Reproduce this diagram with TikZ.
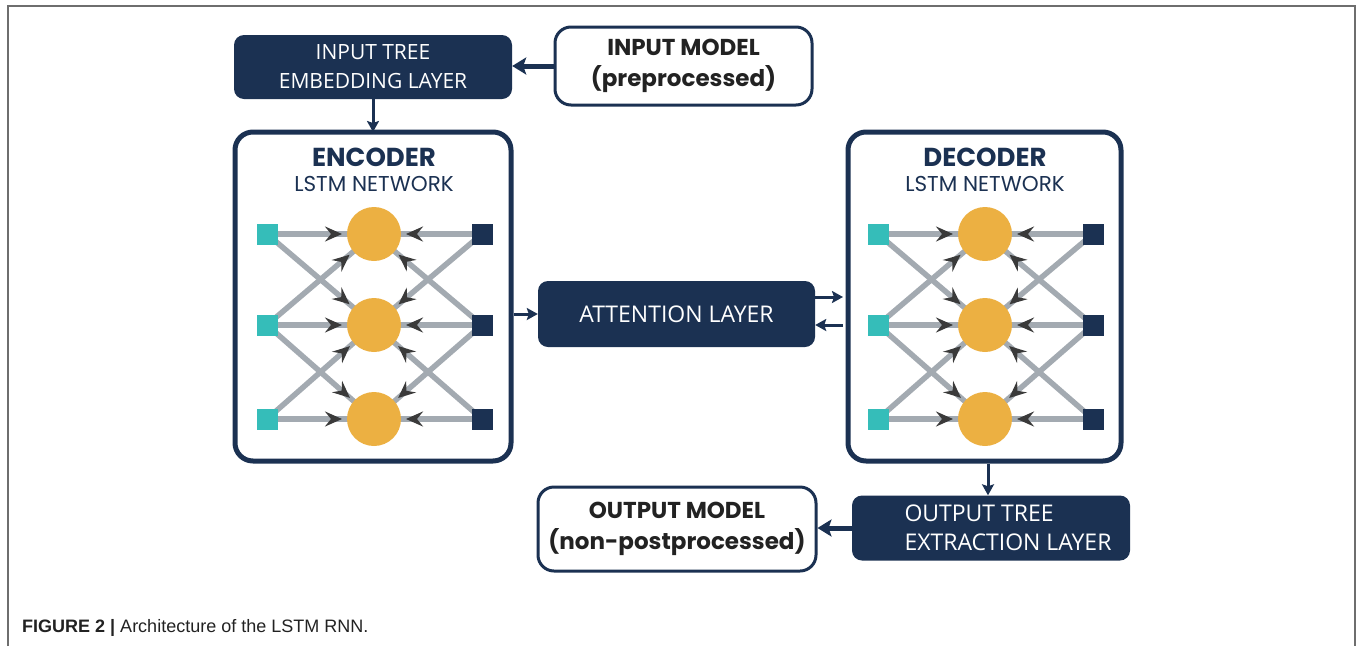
\documentclass[tikz,border=0pt]{standalone}
\usepackage{fontspec}
\setmainfont{Open Sans}
\newfontfamily\geo{Poppins}
\newfontfamily\capfont{Liberation Sans}
\usetikzlibrary{arrows.meta,decorations.markings}
\definecolor{navy}{HTML}{1B3152}
\definecolor{tealc}{HTML}{35BDB9}
\definecolor{orangec}{HTML}{ECB042}
\definecolor{linkgray}{HTML}{A3AAB1}
\definecolor{tipgray}{HTML}{3A3A3A}
\definecolor{txtdark}{HTML}{222222}
\definecolor{framegray}{HTML}{6E6E6E}
\pgfdeclarelayer{bg}
\pgfsetlayers{bg,main}
\tikzset{
  darkbox/.style={fill=navy, rounded corners=10pt, text=white, align=center,
    font=\fontsize{21}{29}\selectfont, inner sep=0pt},
  lightbox/.style={draw=navy, line width=3pt, fill=white, rounded corners=16pt,
    text=txtdark, align=center, font=\geo\bfseries\fontsize{23}{31}\selectfont, inner sep=0pt},
  bigbox/.style={draw=navy, line width=5pt, rounded corners=18pt, inner sep=0pt},
  tsq/.style={fill=tealc, minimum size=21pt, inner sep=0pt},
  nsq/.style={fill=navy, minimum size=21pt, inner sep=0pt},
  circ/.style={circle, fill=orangec, minimum size=54pt, inner sep=0pt},
  glink/.style={draw=linkgray, line width=5.5pt,
    decoration={markings, mark=at position -32pt with {\arrow[tipgray]{Stealth[length=17pt,width=15pt,inset=6pt]}}},
    postaction={decorate}},
  thickarrow/.style={draw=navy, line width=5pt, -{Stealth[length=14pt,width=17pt,inset=3pt]}},
  thinarrow/.style={draw=navy, line width=3pt, -{Stealth[length=11pt,width=12pt,inset=2pt]}},
  title/.style={text=navy, font=\geo\bfseries\fontsize{26}{28}\selectfont, inner sep=0pt},
  subtitle/.style={text=navy, font=\geo\fontsize{21.5}{24}\selectfont, inner sep=0pt},
}
\newcommand\lstmnet[2]{%
  \foreach \i/\yy in {1/234,2/325,3/419} {
    \node[tsq] (#1l\i) at (#2,\yy) {};
    \node[circ] (#1c\i) at (#2+107,\yy) {};
    \node[nsq] (#1r\i) at (#2+215,\yy) {};
  }
  \begin{pgfonlayer}{bg}
  \foreach \a/\b in {1/1,1/2,2/1,2/2,2/3,3/2,3/3} {
    \draw[glink] (#1l\a.center) -- (#1c\b.center);
    \draw[glink] (#1r\a.center) -- (#1c\b.center);
  }
  \end{pgfonlayer}
}
\begin{document}
\begin{tikzpicture}[x=1pt,y=-1pt]
\useasboundingbox (0,0) rectangle (1358,646);
% frame
\draw[framegray, line width=2pt] (8,646) -- (8,6) -- (1355,6) -- (1355,646);

% top boxes
\node[darkbox, minimum width=278pt, minimum height=64pt] (emb) at (373,67) {INPUT TREE\\EMBEDDING LAYER};
\node[lightbox, minimum width=257pt, minimum height=78pt] (inmodel) at (683.5,66) {INPUT MODEL\\(preprocessed)};

% encoder / decoder boxes
\node[bigbox, minimum width=276pt, minimum height=329pt] (enc) at (373,296.5) {};
\node[bigbox, minimum width=273pt, minimum height=329pt] (dec) at (984.5,296.5) {};
\node[title] (enct) at (374,157) {ENCODER};
\node[subtitle] (encs) at (374,184) {LSTM NETWORK};
\node[title] (dect) at (985,157) {DECODER};
\node[subtitle] (decs) at (985,184) {LSTM NETWORK};

\lstmnet{e}{267}
\lstmnet{d}{878}

% attention
\node[darkbox, minimum width=277pt, minimum height=66pt, font=\fontsize{23}{29}\selectfont] (att) at (676.5,314) {ATTENTION LAYER};

% bottom boxes
\node[darkbox, minimum width=278pt, minimum height=65pt, align=left, font=\fontsize{23}{29}\selectfont] (outtree) at (991,528) {\hspace*{34pt}OUTPUT TREE\\\hspace*{34pt}EXTRACTION LAYER};
\node[lightbox, minimum width=278pt, minimum height=84pt] (outmodel) at (677,529) {OUTPUT MODEL\\(non-postprocessed)};

% connectors
\draw[thickarrow] (inmodel.west) -- (emb.east |- inmodel.west);
\draw[thinarrow] (emb.south) -- ([yshift=-2.5pt]enc.north -| emb.south);
\draw[thinarrow] (enc.east |- att.west) -- (att.west);
\draw[thinarrow] ([yshift=17pt]att.east) -- ([xshift=-2.5pt,yshift=17pt]dec.west |- att.east);
\draw[thinarrow] ([xshift=-2.5pt,yshift=-11pt]dec.west |- att.east) -- ([yshift=-11pt]att.east);
\draw[thinarrow] ([xshift=3.5pt]dec.south) -- ([xshift=3.5pt]dec.south |- outtree.north);
\draw[thickarrow] (outtree.west) -- (outmodel.east |- outtree.west);

% caption
\node[anchor=base west, inner sep=0pt, font=\capfont\fontsize{18}{22}\selectfont, text=txtdark] (cap) at (22,632) {\textbf{FIGURE 2 |} Architecture of the LSTM RNN.};
\end{tikzpicture}
\end{document}
